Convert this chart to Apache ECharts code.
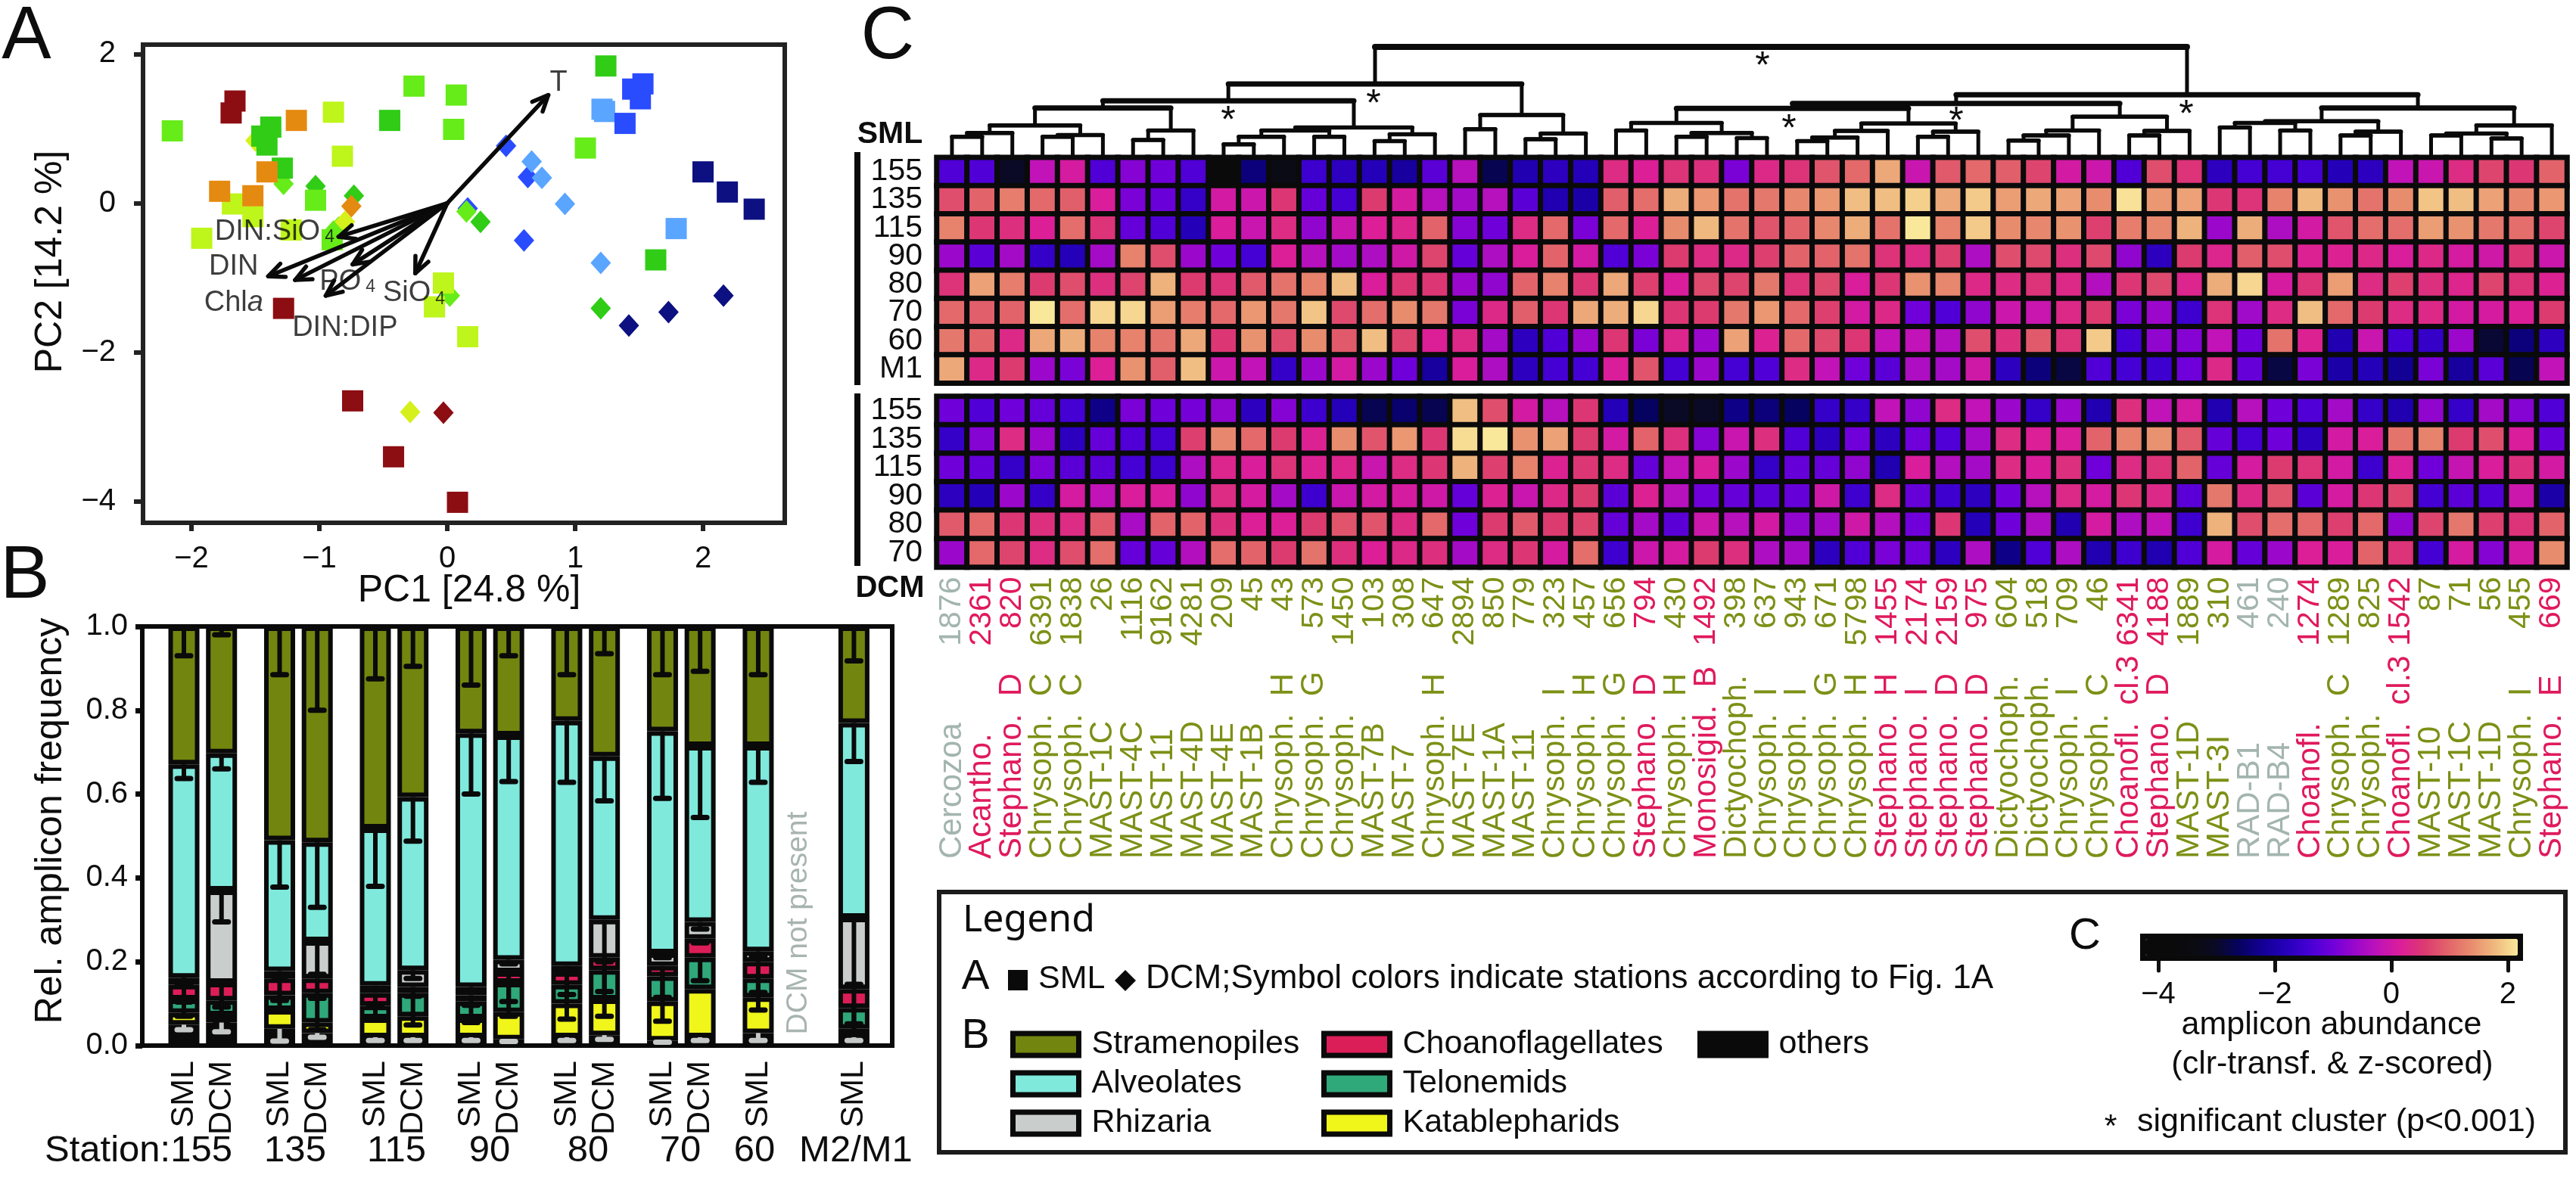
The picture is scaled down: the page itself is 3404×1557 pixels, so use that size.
<!DOCTYPE html>
<html><head><meta charset="utf-8">
<script src="https://cdn.jsdelivr.net/npm/echarts@6/dist/echarts.min.js"></script>
<style>html,body{margin:0;padding:0;background:#fff}#c{width:3404px;height:1557px}</style>
</head><body><div id="c"></div>
<script>
// ---------- Panel A data (PC1, PC2) ----------
const smlDarkRed=[[-1.66,1.37],[-1.69,1.21],[-1.28,-1.41],[-0.74,-2.65],[-0.42,-3.40],[0.08,-4.01]];
const smlOrange=[[-1.18,1.11],[-1.41,0.42],[-1.78,0.16],[-1.52,0.10]];
const smlYellow=[[-0.89,1.22],[-0.82,0.63],[-1.68,-0.01],[-1.52,-0.18],[-1.92,-0.47],[-1.22,-0.36],[-0.03,-1.07],[-0.10,-1.39],[0.16,-1.79]];
const smlLime=[[-2.15,0.97],[-0.26,1.57],[0.07,1.45],[0.05,0.99],[1.08,0.74],[-1.03,0.04],[-0.90,-0.49]];
const smlGreen=[[1.24,1.84],[-0.45,1.11],[-1.38,1.02],[-1.45,0.90],[-1.41,0.78],[-1.29,0.47],[1.63,-0.76]];
const smlSky=[[1.21,1.26],[1.23,1.23],[1.79,-0.34]];
const smlBlue=[[1.53,1.60],[1.45,1.53],[1.51,1.40],[1.39,1.07]];
const smlNavy=[[2.00,0.42],[2.19,0.15],[2.40,-0.08]];
const dcmBlue=[[0.46,0.77],[0.63,0.35],[0.16,-0.07],[0.60,-0.50]];
const dcmSky=[[0.66,0.56],[0.74,0.34],[0.92,-0.01],[1.20,-0.80]];
const dcmNavy=[[2.16,-1.24],[1.73,-1.46],[1.42,-1.64]];
const dcmGreen=[[-1.03,0.23],[-0.73,0.10],[0.26,-0.25],[1.20,-1.41]];
const dcmLime=[[-1.28,0.26],[0.15,-0.11],[0.02,-1.24],[-0.89,-0.38],[-0.85,-0.33]];
const dcmOrange=[[-0.75,-0.04]];
const dcmYellow=[[-0.80,-0.25],[-0.29,-2.80],[-1.50,0.84]];
const dcmDarkRed=[[-0.03,-2.81]];
const loadingNames=['T','DIN:SiO4','DIN','Chla','PO4','DIN:DIP','SiO4'];
const loadingTips=[[0.79,1.45],[-0.85,-0.45],[-1.40,-0.98],[-1.19,-1.03],[-0.74,-0.82],[-0.95,-1.24],[-0.25,-0.94]];
const loadingLabelAt=[[0.87,1.61],[-1.35,-0.38],[-1.67,-0.85],[-1.67,-1.34],[-0.78,-1.05],[-0.80,-1.67],[-0.26,-1.21]];

// ---------- Panel B data ----------
const barStation=[0,0,1,1,2,2,3,3,4,4,5,5,6,7];
const barDepth=['SML','DCM','SML','DCM','SML','DCM','SML','DCM','SML','DCM','SML','DCM','SML','SML'];
const stationLabels=['155','135','115','90','80','70','60','M2/M1'];
const othersTop=[.05,.055,.04,.03,.02,.02,.02,.015,.02,.025,.012,.02,.03,.02];
const kataTop=[.078,.072,.085,.055,.065,.07,.065,.08,.10,.11,.105,.135,.115,.04];
const teloTop=[.11,.108,.12,.125,.095,.125,.105,.15,.145,.18,.165,.21,.16,.09];
const choTop=[.145,.15,.16,.16,.125,.14,.12,.175,.175,.21,.19,.255,.20,.135];
const rhizTop=[.162,.37,.178,.249,.143,.18,.14,.205,.19,.30,.22,.295,.225,.305];
const alvTop=[.671,.697,.49,.485,.518,.593,.745,.74,.775,.69,.75,.715,.715,.77];
const stramTop=[1,1,1,1,1,1,1,1,1,1,1,1,1,1];
const errStram=[.93,.98,.885,.80,.875,.905,.86,.93,.885,.935,.885,.893,.885,.918];
const errAlv=[.637,.66,.378,.33,.38,.488,.60,.63,.628,.584,.59,.544,.628,.678];
const errRhiz=[.145,.295,.165,.17,.133,.16,.13,.195,.18,.20,.21,.278,.212,.146];
const errCho=[.104,.092,.108,.113,.099,.118,.096,.105,.122,.129,.115,.245,.127,.052];
const errTelo=[.07,.06,.087,.038,.061,.049,.055,.07,.063,.07,.058,.155,.085,.024];
const errOthers=[.038,.033,.011,.02,.012,.012,.012,.01,.012,.015,.008,.012,.012,.012];

// ---------- Panel C data ----------
const otuIds=['1876','2361','820','6391','1838','26','1116','9162','4281','209','45','43','573','1450','103','308','647','2894','850','779','323','457','656','794','430','1492','398','637','943','671','5798','1455','2174','2159','975','604','518','709','46','6341','4188','1889','310','461','240','1274','1289','825','1542','87','71','56','455','669'];
const otuNames=['Cercozoa','Acantho.','Stephano.  D','Chrysoph.  C','Chrysoph.  C','MAST-1C','MAST-4C','MAST-11','MAST-4D','MAST-4E','MAST-1B','Chrysoph.  H','Chrysoph.  G','Chrysoph.','MAST-7B','MAST-7','Chrysoph.  H','MAST-7E','MAST-1A','MAST-11','Chrysoph.  I','Chrysoph.  H','Chrysoph.  G','Stephano.  D','Chrysoph.  H','Monosigid.  B','Dictyochoph.','Chrysoph.  I','Chrysoph.  I','Chrysoph.  G','Chrysoph.  H','Stephano.  H','Stephano.  I','Stephano.  D','Stephano.  D','Dictyochoph.','Dictyochoph.','Chrysoph.  I','Chrysoph.  C','Choanofl.  cl.3','Stephano.  D','MAST-1D','MAST-3I','RAD-B1','RAD-B4','Choanofl.','Chrysoph.  C','Chrysoph.','Choanofl.  cl.3','MAST-10','MAST-1C','MAST-1D','Chrysoph.  I','Stephano.  E'];
const rowsSML=['155','135','115','90','80','70','60','M1'];
const rowsDCM=['155','135','115','90','80','70'];
const sml155=[-1.3,-1.3,-3.0,-0.2,0.1,-1.3,-0.8,-1.0,-1.3,-4,-2.4,-3.3,-1.5,-1.7,-1.8,-2.1,-1.2,-0.3,-2.7,-1.9,-1.7,-1.8,0.4,0.2,0.5,0.45,-0.9,0.35,0.5,0.85,1.05,1.65,-0.1,0.9,1.05,0.95,0.7,0.05,-0.05,-1.3,0.8,0.5,-1.7,-1.4,-1.4,-1.4,-1.8,-1.7,-0.2,-0.1,0.4,0.7,0.55,1.0];
const sml135=[0.8,1.0,1.25,1.05,0.95,0.15,-0.9,-1.05,-1.6,0.05,-0.05,0.55,-1.1,-1.4,0.6,0.1,-0.3,-0.5,-0.3,-1.2,-1.9,-2.0,0.95,1.1,1.7,1.5,1.15,1.2,1.35,1.5,1.85,1.85,2.0,1.65,1.95,1.55,1.65,1.6,1.4,2.15,1.5,1.6,0.55,0.5,1.3,1.8,1.45,1.15,1.4,1.9,1.85,1.6,1.35,1.5];
const sml115=[1.3,0.55,0.45,0.2,1.1,0.5,-1.1,-1.3,-1.8,0.15,-0.1,0.4,-0.7,-0.1,0.2,0.3,1.0,-0.8,-1.0,0.4,1.05,-0.9,1.05,0.2,1.4,1.8,1.15,0.85,1.0,1.35,1.7,1.15,2.2,1.3,1.95,1.4,1.35,1.45,0.65,1.25,1.35,1.75,-0.6,1.7,-0.4,0.05,0.85,1.1,1.1,1.55,1.45,1.2,1.1,0.7];
const sml90=[-0.6,-1.2,-0.5,-1.6,-1.8,-0.5,1.3,0.8,-0.6,-1.0,-1.4,0.2,-0.3,-0.5,-0.4,0.0,0.7,-1.1,-0.4,0.15,1.0,0.05,-1.3,-0.9,0.6,0.4,0.35,0.65,1.0,1.0,1.15,0.5,0.4,0.65,-0.4,0.8,0.75,0.45,0.75,-0.7,-1.7,0.6,0.3,0.95,0.8,0.25,0.25,0.35,0.15,0.35,0.1,0.0,0.55,-0.05];
const sml80=[0.5,1.6,1.25,0.6,0.8,0.45,0.7,1.75,0.6,0.5,0.9,1.15,1.3,1.85,0.15,0.55,0.55,-0.6,-0.7,1.0,1.3,0.55,1.65,0.65,0.15,0.75,0.7,1.2,0.5,0.75,0.15,0.55,1.45,1.35,0.35,0.4,0.5,0.35,-0.35,0.55,0.75,0.3,1.7,2.05,0.1,0.5,1.55,0.4,0.65,0.45,0.3,0.7,0.5,0.25];
const sml70=[1.05,0.95,1.0,2.3,1.1,2.05,2.05,1.55,1.25,1.05,1.5,1.2,1.9,0.75,1.1,1.4,1.2,-0.9,0.35,0.95,0.55,1.65,1.7,2.05,0.55,0.6,1.2,1.5,1.05,0.65,0.05,0.35,-1.0,-1.3,-0.7,-0.05,-0.1,0.35,0.6,-0.9,-0.6,-1.5,0.5,-0.55,0.4,1.85,1.05,0.6,0.4,0.35,0.05,0.1,0.2,0.6];
const sml60=[1.2,1.0,0.35,1.65,1.7,1.3,1.3,1.15,1.65,0.55,1.45,0.75,1.4,0.9,1.85,0.7,0.2,0.35,-0.5,-1.7,-1.3,-0.6,0.55,-0.9,0.3,-0.6,1.6,0.25,1.05,0.75,0.55,-0.2,-0.2,-0.35,0.8,0.45,0.9,0.5,1.95,-1.4,-0.7,-0.8,-0.2,-1.0,1.15,0.25,-1.9,-0.1,-1.4,-1.6,-0.6,-2.9,-2.4,-1.7];
const smlM1=[1.65,0.35,0.6,-0.6,-0.9,0.2,1.45,0.95,1.85,-0.05,-0.2,-1.6,-0.6,0.05,-0.6,-1.0,-2.1,0.15,-0.4,-1.7,-1.4,-1.4,0.15,0.85,-1.4,-0.6,-1.4,-1.3,0.4,-0.2,-1.0,-1.2,-0.4,-0.5,0.0,-1.7,-2.4,-2.8,-1.3,-1.4,-1.5,-1.0,0.35,-1.1,-2.8,-0.9,-2.0,-1.8,-2.2,-0.9,-2.1,-1.2,-2.7,-0.2];
const dcm155=[-1.0,-1.3,-1.0,-1.1,-1.4,-2.3,-0.9,-1.0,-0.95,-0.7,-1.7,-0.8,-1.5,-1.8,-2.7,-2.5,-2.7,1.85,0.8,0.05,-0.3,0.55,-1.8,-2.6,-3.0,-3.0,-2.3,-2.4,-2.6,-1.6,-1.6,-0.2,-0.7,0.4,-0.2,-0.6,-1.6,-0.6,-1.9,0.45,-0.2,0.05,-1.9,-0.3,-1.0,-1.3,-0.5,-1.6,-1.9,-0.7,-1.6,-0.5,-0.8,-1.3];
const dcm135=[-1.6,-0.8,0.4,-0.6,-1.7,-1.1,-1.3,-1.4,0.65,1.35,1.05,0.6,0.25,1.4,0.85,1.5,0.55,2.1,2.4,1.45,1.6,0.6,0.05,1.0,0.45,-0.8,-0.1,0.45,-1.3,-1.7,-1.0,-1.7,-1.0,-1.3,-0.5,0.4,0.2,0.15,1.0,1.3,1.45,0.9,-1.1,-1.4,-1.0,-1.7,0.05,0.15,1.15,1.3,0.6,0.8,0.15,-1.1];
const dcm115=[-1.0,-1.1,-1.6,-0.9,-1.2,-1.2,-1.4,-1.5,-0.4,0.3,0.15,0.5,0.25,0.3,-0.1,0.4,0.55,1.75,0.65,1.3,0.25,0.55,0.4,-1.1,-0.2,0.15,-0.6,-1.6,-1.1,-1.1,-0.7,-1.9,0.15,-0.35,-0.5,0.4,0.15,0.45,-1.0,0.4,0.5,1.0,-1.1,0.1,0.6,0.5,0.05,-1.5,0.15,-1.0,-0.15,0.15,0.45,0.05];
const dcm90=[-1.7,-1.8,-0.6,-1.6,0.1,-0.2,0.15,0.15,-0.7,0.4,0.1,-0.5,-1.5,-0.1,0.05,0.1,0.0,-1.1,0.25,-0.1,0.35,0.6,-1.2,0.25,-0.3,-1.0,-1.1,-1.2,-1.1,0.0,-1.5,0.4,-1.1,-1.5,-1.7,-1.0,-0.3,0.35,0.1,0.55,0.35,-1.2,1.2,0.35,0.85,-1.2,0.1,0.55,0.7,-1.4,-1.2,-1.3,-0.05,-2.0];
const dcm80=[0.9,1.05,0.55,0.45,0.4,0.9,-0.45,1.0,1.0,0.45,0.2,0.2,0.6,0.85,0.85,0.4,1.05,-1.0,0.6,0.9,0.6,0.7,-1.1,-0.5,-1.2,-0.05,-0.3,0.05,-0.7,-0.5,0.0,-0.35,-1.0,0.55,-1.8,-1.0,-0.4,-1.9,0.1,-0.4,-0.2,-1.5,1.75,0.8,1.1,1.05,0.65,1.05,-0.7,0.7,1.2,0.65,0.5,1.0];
const dcm70=[-0.6,1.05,0.7,0.4,0.8,1.1,-1.1,-1.1,-0.35,1.1,1.0,0.6,1.15,0.45,0.2,0.35,0.45,-0.5,0.4,0.55,0.1,1.1,-1.5,-0.05,0.1,0.6,0.45,-0.4,-0.5,-1.7,-1.3,-0.9,-1.0,-1.7,-0.4,-2.3,-1.3,-0.4,-1.9,-1.5,-1.9,-1.3,0.1,-1.1,-0.6,0.2,0.15,1.0,0.5,-1.4,0.1,-0.8,0.05,1.4];
const colorStops=['#0a0a0a','#0a0a0a','#0b0b10','#0a0a24','#06025e','#120094','#2400b8','#4400d4','#6e00da','#9a08cc','#c013b8','#dc1e98','#dc3a70','#e2646a','#e88c6e','#efb87e','#fae89a'];
const colorTicks=[-4,-2,0,2];
// dendrogram: nested merges [left, right, height]; a number is a column
const clusterLeft=[[[[[[0,1,.169],2,.204],[[3,4,.169],5,.186],.274],[[6,7,.139],8,.227],.436],[[[[9,10,.1],11,.169],[12,13,.169],.227],[[14,15,.13],16,.193],.255],.501],[[17,18,.239],[[19,20,.146],21,.2],.371],.657];
const clusterMid=[[[[22,23,.227],[[24,25,.169],[26,27,.158],.204],.297],[[[[28,29,.13],30,.162],31,.223],[[32,33,.169],34,.216],.292],.432],[[[[35,36,.135],37,.181],38,.227],[[39,40,.181],41,.223],.355],.478];
const clusterRight=[[[[42,43,.255],[44,45,.227],.297],[[46,47,.181],48,.216],.313],[[[49,50,.181],[51,52,.153],.2],53,.274],.436];
const clusterTree=[clusterLeft,[clusterMid,clusterRight,.557],1];

// ---------- helpers ----------
const FF='"Liberation Sans"', INK='#0d0d0d';
const dcmShift=.393;
const barX=barStation.map((s,i)=>s+(barDepth[i]==='DCM'?dcmShift:0));
const minusFmt=v=>String(v).replace('-','\u2212');

function dendroSegments(){
  const out=[];
  (function walk(n){
    if(typeof n==='number')return [n,0];
    const a=walk(n[0]),b=walk(n[1]);
    out.push([a[0],a[1],b[0],b[1],n[2]]);
    return [(a[0]+b[0])/2,n[2]];
  })(clusterTree);
  return out;
}
function renderDendro(p,api){
  const a=api.coord([api.value(0),api.value(1)]),b=api.coord([api.value(2),api.value(3)]);
  const h=api.value(4),yy=api.coord([0,h])[1];
  const t=h>.9?8:h>.4?7:5.5;
  return {type:'group',children:[
    {type:'polyline',shape:{points:[a,[a[0],yy],[b[0],yy],b]},style:{stroke:'#0a0a0a',fill:null,lineWidth:5,lineJoin:'round'}},
    {type:'line',shape:{x1:a[0],y1:yy,x2:b[0],y2:yy},style:{stroke:'#0a0a0a',lineWidth:t,lineCap:'round'}}
  ]};
}
function renderArrow(p,api){
  const o=api.coord([0,0]),e=api.coord([api.value(0),api.value(1)]);
  const ang=Math.atan2(e[1]-o[1],e[0]-o[0]),L=23,w=.42;
  const h1=[e[0]-L*Math.cos(ang-w),e[1]-L*Math.sin(ang-w)],h2=[e[0]-L*Math.cos(ang+w),e[1]-L*Math.sin(ang+w)];
  const st={stroke:'#0a0a0a',fill:null,lineWidth:5.5,lineCap:'round',lineJoin:'round'};
  return {type:'group',children:[
    {type:'line',shape:{x1:o[0],y1:o[1],x2:e[0],y2:e[1]},style:st},
    {type:'polyline',shape:{points:[h1,e,h2]},style:st}
  ]};
}
function renderErr(p,api){
  const x=api.value(0),g=api.value(3);
  const t=api.coord([x,api.value(1)]),b=api.coord([x,api.value(2)]);
  const c=g?'#c4c8c6':'#0a0a0a';
  return {type:'group',children:[
    {type:'line',shape:{x1:t[0],y1:t[1],x2:b[0],y2:b[1]},style:{stroke:c,lineWidth:6}},
    {type:'line',shape:{x1:b[0]-9,y1:b[1],x2:b[0]+9,y2:b[1]},style:{stroke:c,lineWidth:7,lineCap:'round'}}
  ]};
}
function txt(x,y,text,size,o){
  o=o||{};
  return {type:'text',x,y,rotation:o.rot||0,z:30,style:{text,font:(o.weight||'normal')+' '+size+'px '+(o.ff||FF),fill:o.fill||INK,align:o.align||'center',verticalAlign:'middle',textAlign:o.align||'center',textVerticalAlign:'middle'}};
}
function otuColor(i){
  const n=otuNames[i];
  if(/^(Cercozoa|RAD)/.test(n))return '#a3b5ae';
  if(/^(Acantho|Stephano|Monosigid|Choanofl)/.test(n))return '#e01a5c';
  return '#7d9016';
}
function heat(rows){const d=[];rows.forEach((r,ri)=>r.forEach((v,c)=>d.push([c,ri,v])));return d;}

// ---------- series ----------
const series=[];
const PALETTE={red:'#8c0d12',orange:'#e58a10',yellow:'#bef51a',lime:'#66ec18',green:'#30cc16',sky:'#5aa5ff',blue:'#2a4cff',navy:'#0c1080'};
[[dcmBlue,'blue'],[dcmSky,'sky'],[dcmNavy,'navy'],[dcmGreen,'green'],[dcmLime,'lime'],[dcmYellow,'yellow'],[dcmOrange,'orange'],[dcmDarkRed,'red']].forEach(([d,c])=>
  series.push({type:'scatter',xAxisIndex:0,yAxisIndex:0,data:d,symbol:'diamond',symbolSize:[27,30],itemStyle:{color:c==='yellow'?'#d6f01c':PALETTE[c],opacity:1},silent:true}));
[[smlSky,'sky'],[smlBlue,'blue'],[smlNavy,'navy'],[smlGreen,'green'],[smlYellow,'yellow'],[smlLime,'lime'],[smlOrange,'orange'],[smlDarkRed,'red']].forEach(([d,c])=>
  series.push({type:'scatter',xAxisIndex:0,yAxisIndex:0,data:d,symbol:'rect',symbolSize:28,itemStyle:{color:PALETTE[c],opacity:1},silent:true}));
series.push({type:'custom',xAxisIndex:0,yAxisIndex:0,z:5,silent:true,renderItem:renderArrow,data:loadingTips,clip:false});
series.push({type:'scatter',xAxisIndex:0,yAxisIndex:0,z:6,silent:true,symbolSize:0,
  data:loadingLabelAt.map((p,i)=>({value:p,name:loadingNames[i]})),
  label:{show:true,position:'inside',color:INK,fontFamily:FF,fontSize:38,
    formatter:q=>({'DIN:SiO4':'{t|DIN:SiO}{s|4}','PO4':'{t|PO}{s|4}','SiO4':'{t|SiO}{s|4}','Chla':'{t|Chl}{i|a}'}[q.name]||'{t|'+q.name+'}'),
    rich:{t:{fontSize:38,fontFamily:FF,color:INK},i:{fontSize:38,fontFamily:FF,fontStyle:'italic',color:INK},s:{fontSize:23,fontFamily:FF,color:INK,verticalAlign:'bottom',padding:[16,0,0,6]}}}});

// panel B: [segment, x] so the stack runs along the value dimension
const stackDefs=[['others',othersTop,null,'#0a0a0a'],['Katablepharids',kataTop,othersTop,'#f0f51a'],['Telonemids',teloTop,kataTop,'#2fa87a'],['Choanoflagellates',choTop,teloTop,'#dc1e58'],['Rhizaria',rhizTop,choTop,'#c9cdcc'],['Alveolates',alvTop,rhizTop,'#7fe9dc'],['Stramenopiles',stramTop,alvTop,'#72850f']];
stackDefs.forEach(([name,top,prev,color])=>{
  series.push({name,type:'bar',xAxisIndex:1,yAxisIndex:1,stack:'b',barWidth:41,silent:true,
    encode:{x:1,y:0},
    itemStyle:{color,borderColor:'#0a0a0a',borderWidth:6},
    data:top.map((t,i)=>[t-(prev?prev[i]:0),barX[i]])});
});
const errData=[];
[[stramTop,errStram,0],[alvTop,errAlv,0],[rhizTop,errRhiz,0],[choTop,errCho,0],[teloTop,errTelo,0],[othersTop,errOthers,1]].forEach(([t,e,g])=>
  t.forEach((v,i)=>errData.push([barX[i],v,e[i],g])));
series.push({type:'custom',xAxisIndex:1,yAxisIndex:1,z:5,silent:true,renderItem:renderErr,data:errData});

// panel C
series.push({type:'custom',xAxisIndex:2,yAxisIndex:2,silent:true,clip:false,renderItem:renderDendro,data:dendroSegments()});
const heatStart=series.length;
const heatOpts={type:'heatmap',silent:true,progressive:0,animation:false,itemStyle:{borderColor:'#0a0a0a',borderWidth:7}};
series.push(Object.assign({},heatOpts,{xAxisIndex:3,yAxisIndex:3,data:heat([sml155,sml135,sml115,sml90,sml80,sml70,sml60,smlM1])}));
series.push(Object.assign({},heatOpts,{xAxisIndex:4,yAxisIndex:4,data:heat([dcm155,dcm135,dcm115,dcm90,dcm80,dcm70])}));

// ---------- text & frames ----------
const graphic=[
  txt(35,50,'A',98),txt(33,763,'B',98),txt(1173,50,'C',98),
  txt(67,346,'PC2 [14.2 %]',50,{rot:Math.PI/2}),
  txt(620,781,'PC1 [24.8 %]',50),
  txt(67,1085,'Rel. amplicon frequency',50,{rot:Math.PI/2}),
  txt(1055,1220,'DCM not present',39,{rot:Math.PI/2,fill:'#a8b4b0'}),
  txt(59,1521,'Station:155',49,{align:'left'}),
  txt(390,1521,stationLabels[1],49),txt(524,1521,stationLabels[2],49),txt(647,1521,stationLabels[3],49),
  txt(777,1521,stationLabels[4],49),txt(899,1521,stationLabels[5],49),txt(997,1521,stationLabels[6],49),txt(1131,1521,stationLabels[7],49),
  txt(1176,178,'SML',41,{weight:'bold'}),txt(1176,778,'DCM',40,{weight:'bold'}),
  {type:'rect',z:30,shape:{x:1129,y:201,width:8,height:308},style:{fill:'#0a0a0a'}},
  {type:'rect',z:30,shape:{x:1129,y:520,width:8,height:228},style:{fill:'#0a0a0a'}},
  txt(1623,161,'*',50),txt(1815,139,'*',50),txt(2329,89,'*',50),txt(2364,172,'*',50),txt(2585,162,'*',50),txt(2889,153,'*',50),
  // legend box
  {type:'rect',z:1,shape:{x:1241,y:1179,width:2149,height:344},style:{fill:'transparent',stroke:'#1c1c1c',lineWidth:6}},
  txt(1272,1217,'Legend',50,{align:'left',ff:'"Noto Sans"'}),
  txt(1289,1292,'A',55),
  {type:'rect',z:30,shape:{x:1332,y:1282,width:26,height:27},style:{fill:'#0a0a0a'}},
  txt(1372,1294,'SML',43,{align:'left'}),
  {type:'polygon',z:30,shape:{points:[[1487,1282],[1501,1296],[1487,1310],[1473,1296]]},style:{fill:'#0a0a0a'}},
  txt(1514,1294,'DCM;Symbol colors indicate stations according to Fig. 1A',44,{align:'left'}),
  txt(1289,1370,'B',55),
  txt(2755,1238,'C',58),
  txt(3081,1355,'amplicon abundance',43),
  txt(3082,1407,'(clr-transf. & z-scored)',43),
  txt(2789,1490,'*',43),
  txt(2824,1483,'significant cluster (p<0.001)',43,{align:'left'})
];

const hiddenAxis=(t,o)=>Object.assign({type:t,show:false},o||{});
const noLine={show:false,onZero:false};
const legendBase={orient:'vertical',selectedMode:false,icon:'rect',itemWidth:87,itemHeight:29,itemGap:9,z:20,
  itemStyle:{borderColor:'#0a0a0a',borderWidth:7},
  textStyle:{fontFamily:FF,fontSize:43,color:INK,padding:[0,0,0,12]}};
const option={
  animation:false,backgroundColor:'#fff',
  grid:[
    {left:189,top:59,width:848,height:632,show:true,borderWidth:6,borderColor:'#222',backgroundColor:'#fff'},
    {left:188,top:828,width:991,height:554,show:true,borderWidth:6,borderColor:'#0a0a0a',backgroundColor:'#fff'},
    {left:1238,top:62,width:2154,height:143},
    {left:1238,top:208.3,width:2154,height:298},
    {left:1238,top:524,width:2154,height:225.5},
    {left:1238,top:1135,width:2154,height:1},
    {left:2835,top:1241,width:492,height:22}
  ],
  xAxis:[
    {type:'value',gridIndex:0,min:-2.379,max:2.639,splitLine:{show:false},axisLine:noLine,
      axisTick:{length:11,lineStyle:{width:6,color:'#222'},customValues:[-2,-1,0,1,2]},
      axisLabel:{fontFamily:FF,fontSize:40,color:INK,margin:28,formatter:minusFmt,customValues:[-2,-1,0,1,2]}},
    {type:'value',gridIndex:1,min:-0.435,max:7.4,splitLine:{show:false},axisLine:noLine,axisTick:{show:false},
      axisLabel:{fontFamily:FF,fontSize:43,color:INK,rotate:90,margin:20,hideOverlap:false,customValues:barX,formatter:v=>barDepth[barX.indexOf(v)]||''}},
    hiddenAxis('value',{gridIndex:2,min:-0.5,max:53.5}),
    hiddenAxis('category',{gridIndex:3,data:otuIds}),
    {type:'category',gridIndex:4,data:otuIds,axisLine:{show:false},axisTick:{show:false},
      axisLabel:{interval:0,rotate:90,margin:13,fontFamily:FF,fontSize:41,color:(v,i)=>otuColor(i)}},
    {type:'category',gridIndex:5,position:'top',data:otuNames,axisLine:{show:false},axisTick:{show:false},
      axisLabel:{interval:0,rotate:90,margin:0,fontFamily:FF,fontSize:42,color:(v,i)=>otuColor(i)}},
    {type:'value',gridIndex:6,min:-4.22,max:2.17,offset:7,splitLine:{show:false},axisLine:noLine,
      axisTick:{length:13,lineStyle:{width:5,color:'#111',cap:'round'},customValues:colorTicks},
      axisLabel:{fontFamily:FF,fontSize:40,color:INK,margin:25,formatter:minusFmt,customValues:colorTicks}}
  ],
  yAxis:[
    {type:'value',gridIndex:0,min:-4.285,max:2.126,splitLine:{show:false},axisLine:noLine,
      axisTick:{length:12,lineStyle:{width:6,color:'#222'},customValues:[-4,-2,0,2]},
      axisLabel:{fontFamily:FF,fontSize:40,color:INK,margin:36,formatter:minusFmt,customValues:[-4,-2,0,2]}},
    {type:'value',gridIndex:1,min:0,max:1,interval:.2,splitLine:{show:false},axisLine:noLine,
      axisTick:{length:9,lineStyle:{width:7,color:'#0a0a0a'}},
      axisLabel:{fontFamily:FF,fontSize:40,color:INK,margin:19,formatter:v=>v.toFixed(1)}},
    hiddenAxis('value',{gridIndex:2,min:0,max:1}),
    {type:'category',gridIndex:3,inverse:true,data:rowsSML,axisLine:{show:false},axisTick:{show:false},axisLabel:{interval:0,fontFamily:FF,fontSize:41,color:INK,margin:19}},
    {type:'category',gridIndex:4,inverse:true,data:rowsDCM,axisLine:{show:false},axisTick:{show:false},axisLabel:{interval:0,fontFamily:FF,fontSize:41,color:INK,margin:19}},
    hiddenAxis('value',{gridIndex:5}),
    hiddenAxis('value',{gridIndex:6})
  ],
  visualMap:{type:'continuous',seriesIndex:[heatStart,heatStart+1],min:-4.22,max:2.2,orient:'horizontal',left:2828,top:1234,itemWidth:22,itemHeight:492,
    padding:7,backgroundColor:'#0a0a0a',calculable:false,hoverLink:false,text:null,showLabel:false,inRange:{color:colorStops},outOfRange:{color:'#fafcaa'},z:20},
  legend:[
    Object.assign({},legendBase,{data:['Stramenopiles','Alveolates','Rhizaria'],left:1330,top:1354}),
    Object.assign({},legendBase,{data:['Choanoflagellates','Telonemids','Katablepharids'],left:1741,top:1354}),
    Object.assign({},legendBase,{data:['others'],left:2238,top:1354})
  ],
  graphic:{elements:graphic},
  series
};
echarts.init(document.getElementById('c'),null,{renderer:'canvas'}).setOption(option);
</script></body></html>
